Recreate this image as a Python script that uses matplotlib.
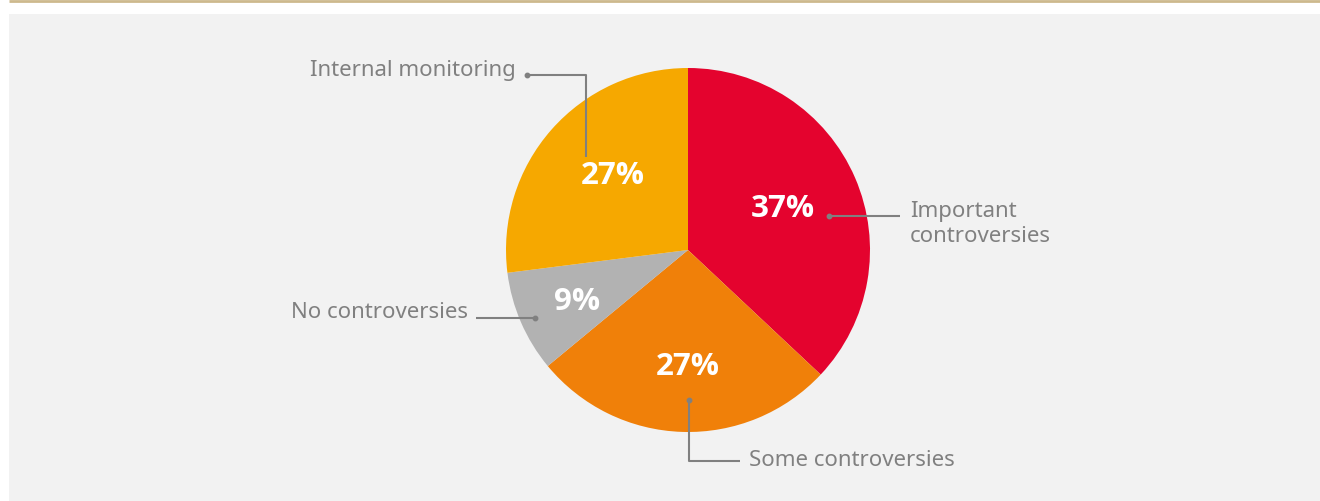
import matplotlib
matplotlib.use("Agg")
import matplotlib.pyplot as plt
from matplotlib.patches import Rectangle

# Share of companies by controversy level
categories = ["Important\ncontroversies", "Some controversies", "No controversies", "Internal monitoring"]
shares = [37, 27, 9, 27]
colors = ["#e4032e", "#f08009", "#b2b2b2", "#f6a800"]

W, H = 1320, 501
fig = plt.figure(figsize=(W / 100, H / 100), dpi=100)
fig.patch.set_facecolor("white")
ax = fig.add_axes([0, 0, 1, 1])


def py(y):
    # pixel row measured from the top -> axis y
    return H - y


# panel background and top rule
ax.add_patch(Rectangle((9, 0), W - 9, py(14), facecolor="#f2f2f2", edgecolor="none", zorder=0))
ax.plot([9, W], [py(1), py(1)], color="#cdb98d", lw=2, solid_capstyle="butt", zorder=1)

cx, cy, R = 688, py(250), 182
ax.pie(shares, colors=colors, startangle=90, counterclock=False,
       center=(cx, cy), radius=R, frame=True,
       wedgeprops=dict(linewidth=0, edgecolor="none"))
ax.set_xlim(0, W)
ax.set_ylim(0, H)
ax.set_aspect("equal")
ax.axis("off")

label_font = "Noto Sans"
pct_font = "Open Sans"
pct_pos = [(783, 209), (688, 367), (577, 302), (613, 176)]
for v, (x, y) in zip(shares, pct_pos):
    ax.text(x, py(y), f"{v}%", color="white", fontsize=22.5, fontweight="bold",
            family=pct_font, ha="center", va="center", zorder=5)

lc = "#808080"
tc = "#808080"
lw = 1.5
fs = 16


def leader(xs, ys, dot):
    ax.plot(xs, [py(y) for y in ys], color=lc, lw=lw, zorder=4, solid_capstyle="butt")
    ax.plot([dot[0]], [py(dot[1])], "o", color=lc, ms=3.2, zorder=4)


# Important controversies
leader([829, 900], [216, 216], (829, 216))
ax.text(910, py(224), categories[0], color=tc, fontsize=fs, family=label_font,
        ha="left", va="center", linespacing=1.25)
# Some controversies
leader([689, 689, 740], [400, 461, 461], (689, 400))
ax.text(749, py(461), categories[1], color=tc, fontsize=fs, family=label_font,
        ha="left", va="center")
# No controversies
leader([476, 535], [318, 318], (535, 318))
ax.text(468, py(313), categories[2], color=tc, fontsize=fs, family=label_font,
        ha="right", va="center")
# Internal monitoring
leader([527, 586, 586], [75, 75, 157], (527, 75))
ax.text(516, py(70), categories[3], color=tc, fontsize=fs, family=label_font,
        ha="right", va="center")

fig.savefig("out.png", dpi=100, facecolor=fig.get_facecolor())
